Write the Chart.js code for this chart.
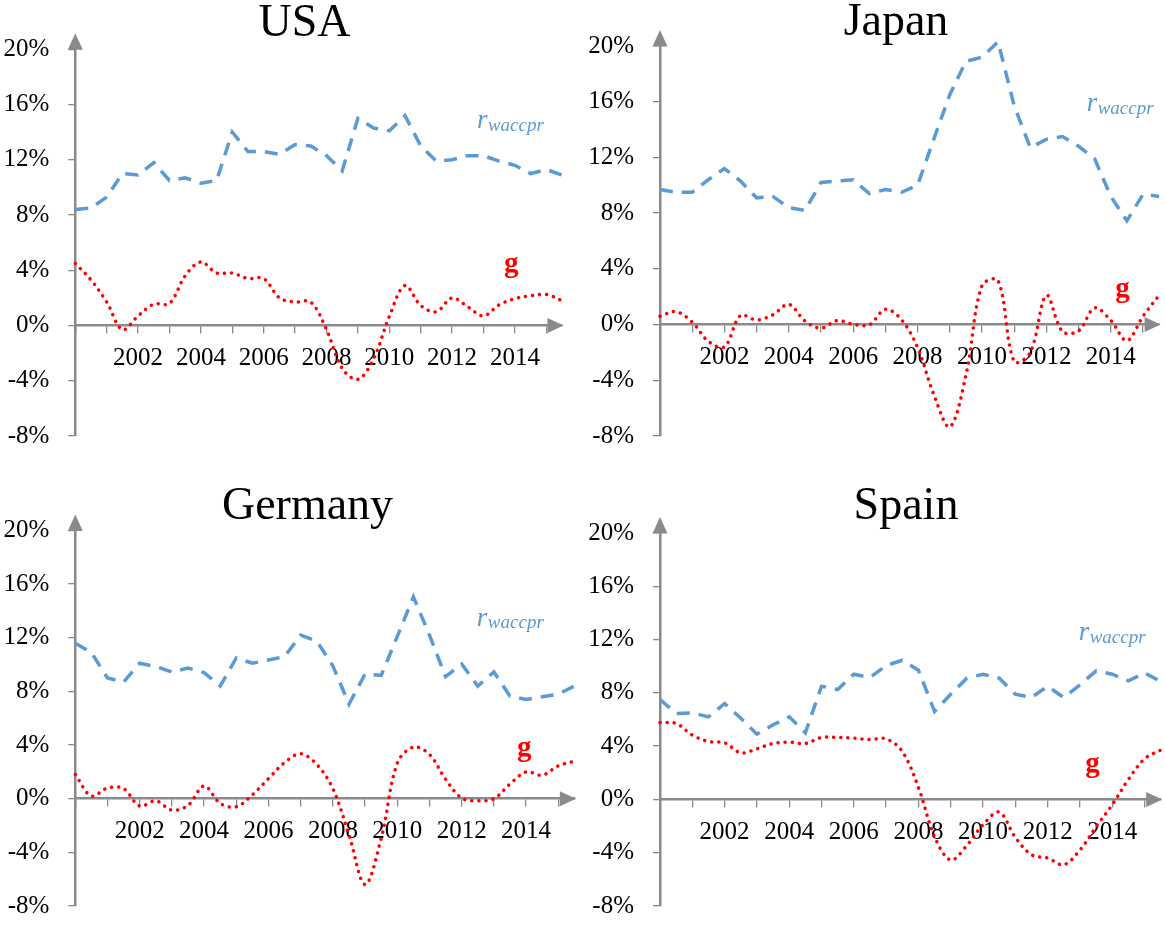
<!DOCTYPE html>
<html>
<head>
<meta charset="utf-8">
<script src="https://cdn.jsdelivr.net/npm/chart.js@4.4.1/dist/chart.umd.min.js"></script>
<style>
html,body{margin:0;padding:0;background:#fff;}
#wrap{position:relative;width:1165px;height:940px;overflow:hidden;background:#fff;}
canvas{position:absolute;display:block;}
</style>
</head>
<body>
<div id="wrap">
<canvas id="c0" width="582" height="470" style="left:0px;top:0px"></canvas>
<canvas id="c1" width="583" height="470" style="left:582px;top:0px"></canvas>
<canvas id="c2" width="582" height="470" style="left:0px;top:470px"></canvas>
<canvas id="c3" width="583" height="470" style="left:582px;top:470px"></canvas>
</div>
<script>
// ---------- data ----------
const periods = [2000,2000.5,2001,2001.5,2002,2002.5,2003,2003.5,2004,2004.5,
                 2005,2005.5,2006,2006.5,2007,2007.5,2008,2008.5,2009,2009.5,
                 2010,2010.5,2011,2011.5,2012,2012.5,2013,2013.5,2014,2014.5,
                 2015,2015.5];
const yearTicks = [2000,2001,2002,2003,2004,2005,2006,2007,2008,2009,2010,2011,2012,2013,2014,2015];
const yearLabels = ['2002','2004','2006','2008','2010','2012','2014'];
const yTicks = [-8,-4,0,4,8,12,16,20];

const usaR = [8.4,8.5,9.3,11.0,10.9,11.8,10.5,10.7,10.3,10.5,
              14.0,12.6,12.6,12.4,13.1,13.0,12.3,11.2,15.0,14.3,
              14.1,15.2,13.0,11.9,12.0,12.3,12.3,11.9,11.6,11.0,
              11.3,10.9];
const usaG = [4.5,3.3,1.7,-0.3,0.7,1.55,1.6,3.6,4.6,3.8,
              3.8,3.4,3.4,2.0,1.7,1.7,-0.3,-3.1,-3.9,-2.4,
              0.65,2.9,1.45,1.0,2.0,1.35,0.7,1.5,1.95,2.15,
              2.25,1.8];
const japanR = [9.7,9.5,9.5,10.4,11.2,10.3,9.1,9.2,8.4,8.2,
                10.2,10.3,10.4,9.4,9.7,9.5,10.0,13.3,16.5,18.9,
                19.2,20.3,15.7,12.7,13.3,13.5,12.8,11.9,9.2,7.45,
                9.35,9.2];
const japanG = [0.6,0.93,0.17,-1.2,-1.6,0.65,0.33,0.7,1.45,0.26,
                -0.26,0.29,0.02,-0.02,1.1,0.35,-1.65,-5.0,-7.35,-3.65,
                2.8,3.15,-2.65,-2.0,2.1,-0.5,-0.45,1.2,0.3,-1.15,
                0.6,2.1];
const germanyR = [11.6,10.9,9.0,8.7,10.1,9.85,9.45,9.75,9.4,8.4,
                  10.5,10.1,10.35,10.6,12.2,11.75,9.9,7.05,9.3,9.2,
                  12.1,15.05,12.2,9.1,10.05,8.4,9.45,7.65,7.4,7.6,
                  7.8,8.4];
const germanyG = [1.8,0.2,0.8,0.75,-0.55,-0.15,-0.85,-0.5,0.95,-0.35,
                  -0.6,0.3,1.5,2.7,3.35,2.55,0.75,-2.7,-6.4,-2.95,
                  2.65,3.85,3.3,1.45,0.05,-0.15,0.0,1.1,2.0,1.75,
                  2.45,2.8];
const spainR = [7.5,6.45,6.5,6.2,7.2,6.1,4.9,5.6,6.2,5.0,
                8.5,8.25,9.4,9.15,10.05,10.45,9.7,6.6,7.9,9.1,
                9.4,9.1,7.9,7.65,8.5,7.65,8.6,9.65,9.4,8.9,
                9.5,8.85];
const spainG = [5.77,5.7,4.83,4.35,4.25,3.5,3.8,4.2,4.3,4.2,
                4.65,4.65,4.6,4.5,4.55,3.6,0.9,-2.8,-4.55,-3.45,
                -1.9,-0.95,-2.85,-4.15,-4.4,-4.9,-3.8,-2.05,-0.4,1.5,
                3.05,3.7];

// ---------- styling / layout ----------
const BLUE = '#5B9BD5';
const RED = '#FF0000';
const AXIS = '#8A8A8A';
const SERIF = '"Liberation Serif", "Times New Roman", serif';

const panels = [
  {id:'c0', title:'USA',     r:usaR,     g:usaG,     cx:0,   cy:0,   cw:582, ch:470,
   area:{l:75.3, r:562.0,  t:49.3,  b:439.3}, tx:304.5, ty:36, rAt:[2012.79,14.3], gAt:[2013.88,3.85]},
  {id:'c1', title:'Japan',   r:japanR,   g:japanG,   cx:582, cy:0,   cw:583, ch:470,
   area:{l:660,  r:1159.1, t:46.0,  b:437.6}, tx:896,   ty:35, rAt:[2013.25,15.3], gAt:[2014.36,2.0]},
  {id:'c2', title:'Germany', r:germanyR, g:germanyG, cx:0,   cy:470, cw:582, ch:470,
   area:{l:75.3, r:574.4,  t:530.5, b:922.2}, tx:307.5, ty:519, rAt:[2012.47,12.9], gAt:[2013.94,3.22]},
  {id:'c3', title:'Spain',   r:spainR,   g:spainG,   cx:582, cy:470, cw:583, ch:470,
   area:{l:660,  r:1160.7, t:533.0, b:922.0}, tx:906,   ty:519, rAt:[2012.96,11.94], gAt:[2013.39,2.09]}
];

const decor = {
  id: 'decor',
  afterDraw(chart, args, o) {
    const {ctx, chartArea: a} = chart;
    const xs = chart.scales.x, ys = chart.scales.y;
    const y0 = ys.getPixelForValue(0);
    ctx.save();
    ctx.fillStyle = AXIS;
    // y-axis arrow head
    ctx.beginPath();
    ctx.moveTo(a.left, a.top - 16);
    ctx.lineTo(a.left - 7.5, a.top + 0.5);
    ctx.lineTo(a.left + 7.5, a.top + 0.5);
    ctx.closePath();
    ctx.fill();
    // x-axis arrow head
    ctx.beginPath();
    ctx.moveTo(a.right + 1.5, y0);
    ctx.lineTo(a.right - 14.5, y0 - 7.5);
    ctx.lineTo(a.right - 14.5, y0 + 7.5);
    ctx.closePath();
    ctx.fill();
    // title
    ctx.fillStyle = '#000';
    ctx.font = '46px ' + SERIF;
    ctx.textAlign = 'center';
    ctx.textBaseline = 'alphabetic';
    ctx.fillText(o.title, o.tx, o.ty);
    // series labels
    const rx = xs.getPixelForValue(o.rAt[0]);
    const ry = ys.getPixelForValue(o.rAt[1]);
    ctx.fillStyle = BLUE;
    ctx.textAlign = 'left';
    ctx.font = 'italic 27px ' + SERIF;
    ctx.fillText('r', rx, ry);
    const w = ctx.measureText('r').width;
    ctx.font = 'italic 19px ' + SERIF;
    ctx.fillText('waccpr', rx + w + 0.5, ry + 2.5);
    ctx.fillStyle = RED;
    ctx.textAlign = 'center';
    ctx.font = 'bold 29px ' + SERIF;
    ctx.fillText('g', xs.getPixelForValue(o.gAt[0]), ys.getPixelForValue(o.gAt[1]));
    ctx.restore();
  }
};

Chart.defaults.font.family = SERIF;
Chart.defaults.font.size = 25;
Chart.defaults.color = '#000';

panels.forEach(p => {
  const yw = p.area.l - p.cx;
  const pad = {
    left: 0,
    right: p.cx + p.cw - p.area.r,
    top: p.area.t - p.cy,
    bottom: p.cy + p.ch - p.area.b
  };
  new Chart(document.getElementById(p.id), {
    type: 'line',
    data: {
      datasets: [
        {
          label: 'r_waccpr',
          data: periods.map((t, i) => ({x: t, y: p.r[i]})),
          borderColor: BLUE,
          borderWidth: 3.5,
          borderDash: [13, 9],
          borderCapStyle: 'butt',
          pointRadius: 0,
          tension: 0,
          fill: false,
          clip: false
        },
        {
          label: 'g',
          data: periods.map((t, i) => ({x: t, y: p.g[i]})),
          borderColor: RED,
          borderWidth: 3.5,
          borderDash: [0.1, 7],
          borderCapStyle: 'round',
          pointRadius: 0,
          tension: 0.35,
          fill: false,
          clip: false
        }
      ]
    },
    options: {
      responsive: false,
      animation: false,
      events: [],
      layout: {padding: pad},
      plugins: {
        legend: {display: false},
        tooltip: {enabled: false},
        title: {display: false},
        decor: {title: p.title, tx: p.tx - p.cx, ty: p.ty - p.cy, rAt: p.rAt, gAt: p.gAt}
      },
      scales: {
        x: {
          type: 'linear',
          position: {y: 0},
          min: 2000,
          max: 2015.5,
          afterBuildTicks: s => { s.ticks = yearTicks.map(v => ({value: v})); },
          ticks: {
            autoSkip: false,
            maxRotation: 0,
            minRotation: 0,
            padding: 11,
            font: {size: 25},
            callback: v => yearLabels.includes(String(v)) ? String(v) : ''
          },
          grid: {drawOnChartArea: false, drawTicks: true, tickLength: 7, color: AXIS, lineWidth: 1.3},
          border: {display: true, color: AXIS, width: 2.5}
        },
        y: {
          type: 'linear',
          position: 'left',
          min: -8,
          max: 20,
          afterBuildTicks: s => { s.ticks = yTicks.map(v => ({value: v})); },
          afterFit: s => { s.width = yw; },
          ticks: {
            padding: 19,
            font: {size: 25},
            callback: v => v + '%'
          },
          grid: {drawOnChartArea: false, drawTicks: true, tickLength: 7, color: AXIS, lineWidth: 1.3},
          border: {display: true, color: AXIS, width: 2.5}
        }
      }
    },
    plugins: [decor]
  });
});
</script>
</body>
</html>
